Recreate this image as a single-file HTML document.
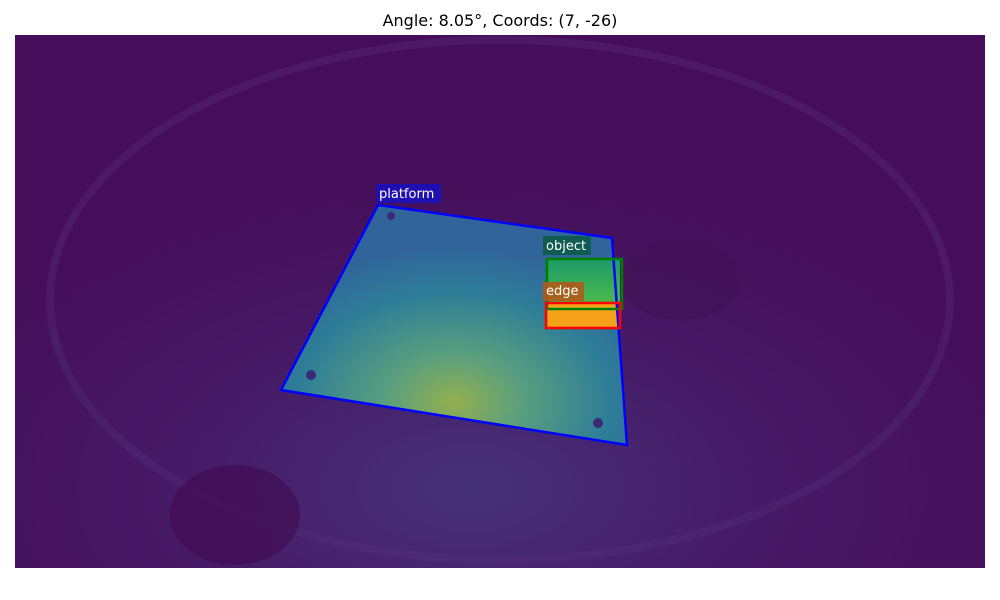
<!DOCTYPE html>
<html><head><meta charset="utf-8"><style>
html,body{margin:0;padding:0;background:#fff;width:1000px;height:600px;overflow:hidden;font-family:"DejaVu Sans","Liberation Sans",sans-serif}
svg{display:block}
</style></head><body>
<svg width="1000" height="600" viewBox="0 0 1000 600">
<defs>
<clipPath id="clip"><rect x="15" y="35" width="970" height="533"/></clipPath>
<radialGradient id="bg" cx="0.47" cy="0.85" r="0.6">
<stop offset="0" stop-color="#46327a"/><stop offset="0.5" stop-color="#461a66"/><stop offset="1" stop-color="#450d5a"/>
</radialGradient>
<radialGradient id="plat" cx="0.5" cy="0.82" r="0.65">
<stop offset="0" stop-color="#93b04f"/><stop offset="0.3" stop-color="#5a9f7e"/><stop offset="0.7" stop-color="#2e7d98"/><stop offset="1" stop-color="#31649b"/>
</radialGradient>
<linearGradient id="obj" x1="0" y1="0" x2="0" y2="1">
<stop offset="0" stop-color="#1a9a6a"/><stop offset="1" stop-color="#4cba4a"/>
</linearGradient>
</defs>
<text x="500" y="26" text-anchor="middle" font-size="16" fill="#000">Angle: 8.05°, Coords: (7, -26)</text>
<g clip-path="url(#clip)">
<rect x="15" y="35" width="970" height="533" fill="url(#bg)"/>
<ellipse cx="500" cy="300" rx="450" ry="260" fill="none" stroke="#55307a" stroke-width="8" opacity="0.35"/>
<ellipse cx="235" cy="515" rx="65" ry="50" fill="#40084f" opacity="0.6"/>
<ellipse cx="680" cy="280" rx="60" ry="40" fill="#40104f" opacity="0.5"/>
<polygon points="378,205 612,238 627,445 281,390" fill="url(#plat)"/>
<circle cx="391" cy="216" r="4" fill="#3a2a7a"/>
<circle cx="311" cy="375" r="5" fill="#3a2a7a"/>
<circle cx="598" cy="423" r="5" fill="#3a2a7a"/>
<rect x="547" y="258" width="73" height="46" fill="url(#obj)"/>
<rect x="547" y="304" width="71" height="24" fill="#f5a21a"/>
<polygon points="378,205 612,238 627,445 281,390" fill="none" stroke="#0000ff" stroke-width="2.5"/>
<rect x="547" y="259" width="75" height="50" fill="none" stroke="#008000" stroke-width="2.5"/>
<rect x="546" y="303" width="74" height="25" fill="none" stroke="#ff0000" stroke-width="2.5"/>
<rect x="376" y="184" width="65" height="19" fill="#1a0fbf" opacity="0.85"/>
<text x="379" y="198" font-size="13" fill="#fff">platform</text>
<rect x="543" y="236" width="48" height="19" fill="#0d5a4a" opacity="0.9"/>
<text x="546" y="250" font-size="13" fill="#fff">object</text>
<rect x="543" y="282" width="41" height="19" fill="#b05a1a" opacity="0.9"/>
<text x="546" y="295" font-size="13" fill="#fff">edge</text>
</g>
</svg>
</body></html>
